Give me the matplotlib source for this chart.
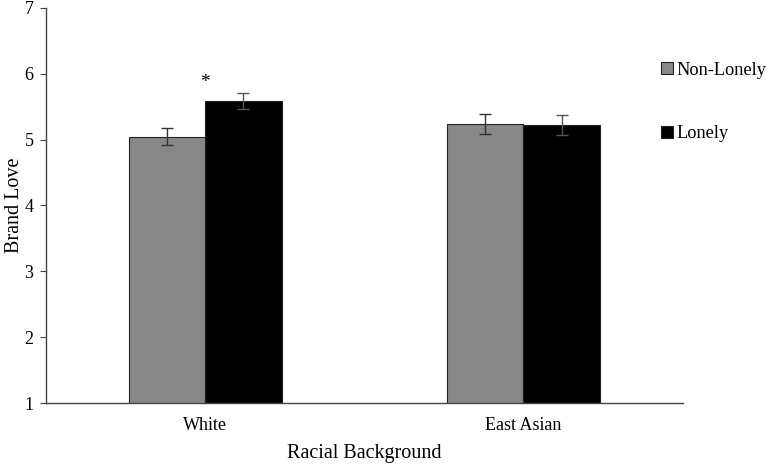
import numpy as np
import matplotlib.pyplot as plt

plt.rcParams['font.family'] = ['Liberation Serif', 'DejaVu Serif']

# data
groups = ['White', 'East Asian']
non_lonely = [5.04, 5.24]
non_lonely_err = [0.13, 0.15]
lonely = [5.58, 5.22]
lonely_err = [0.12, 0.15]

fig = plt.figure(figsize=(7.67, 4.65), dpi=100)
ax = fig.add_axes([0.060, 0.1333, 0.830, 0.850])

x = np.arange(len(groups))
w = 0.24
ax.bar(x - w / 2, non_lonely, w, yerr=non_lonely_err, color='#878787',
       edgecolor='#222222', linewidth=0.8, label='Non-Lonely',
       error_kw=dict(ecolor='#333333', elinewidth=1, capsize=4, capthick=1))
ax.bar(x + w / 2, lonely, w, yerr=lonely_err, color='black',
       edgecolor='#222222', linewidth=0.8, label='Lonely',
       error_kw=dict(ecolor='#555555', elinewidth=1, capsize=4, capthick=1))

# significance marker
ax.text(x[0], lonely[0] + lonely_err[0] + 0.17, '*', ha='center', va='center', fontsize=14)

ax.set_xlim(-0.5, 1.5)
ax.set_ylim(1, 7)
ax.set_yticks(range(1, 8))
ax.set_xticks(x)
ax.set_xticklabels(groups)
ax.tick_params(axis='x', length=0, labelsize=13, pad=10)
ax.tick_params(axis='y', length=4, labelsize=13, color='#444444', pad=5)
for s in ['top', 'right']:
    ax.spines[s].set_visible(False)
for s in ['left', 'bottom']:
    ax.spines[s].set_color('#444444')
    ax.spines[s].set_linewidth(1)

ax.set_ylabel('Brand Love', fontsize=14.5)
ax.yaxis.set_label_coords(-0.035, 0.5)
ax.set_xlabel('Racial Background', fontsize=14.5, labelpad=7)

fig.legend(loc='upper left', bbox_to_anchor=(0.840, 0.903), frameon=False, fontsize=13.2,
           handlelength=0.68, handleheight=0.68, handletextpad=0.2, labelspacing=2.55)

fig.savefig('out.png', dpi=100)
